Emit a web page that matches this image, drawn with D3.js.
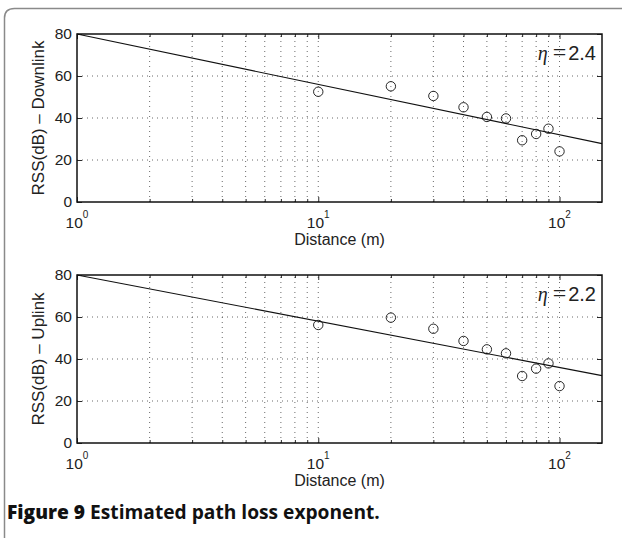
<!DOCTYPE html>
<html>
<head>
<meta charset="utf-8">
<script src="https://cdn.jsdelivr.net/npm/d3@7/dist/d3.min.js"></script>
<style>
  html, body { margin: 0; padding: 0; background: #fff; }
  svg { display: block; }
</style>
</head>
<body>
<svg id="chart" width="622" height="538"></svg>
<script>
// ---------------- data ----------------
const distances = [10, 20, 30, 40, 50, 60, 70, 80, 90, 100];
const rssDownlink = [52.5, 55.1, 50.5, 45.1, 40.5, 39.8, 29.4, 32.4, 34.9, 24.1];
const rssUplink   = [56.2, 59.7, 54.4, 48.6, 44.6, 42.7, 31.9, 35.4, 37.9, 27.1];
const fitX = [1, 150];
const fitDownlink = [80, 27.8];
const fitUplink   = [80, 32.1];
const etaLabels = ["2.4", "2.2"];
const yLabels = ["RSS(dB) \u2013 Downlink", "RSS(dB) \u2013 Uplink"];
const yTicks = [0, 20, 40, 60, 80];
const yGrid = [20, 40, 60];
const xMajorTicks = [1, 10, 100];
const xMajorExp = ["0", "1", "2"];
const xMinorTicks = [2, 3, 4, 5, 6, 7, 8, 9, 20, 30, 40, 50, 60, 70, 80, 90];
const xLabel = "Distance (m)";
const captionBold = "Figure 9";
const captionText = " Estimated path loss exponent.";

// ---------------- layout ----------------
const svg = d3.select("#chart");
const W = 622, H = 538;
const left = 77, right = 602;
const panelTops = [34, 275];
const panelH = 168;

// card border
svg.append("path")
  .attr("d", `M4.5,${H} L4.5,18 Q4.5,8.5 14.5,8.5 L${W + 5},8.5`)
  .attr("fill", "none").attr("stroke", "#8a8a8a").attr("stroke-width", 1.5);

const panels = [
  { values: rssDownlink, fit: fitDownlink, eta: etaLabels[0], ylab: yLabels[0], top: panelTops[0] },
  { values: rssUplink,   fit: fitUplink,   eta: etaLabels[1], ylab: yLabels[1], top: panelTops[1] }
];

const sans = "'Liberation Sans', Arial, Helvetica, sans-serif";
const serif = "'Liberation Serif', 'Times New Roman', serif";

panels.forEach(p => {
  const x = d3.scaleLog().domain([1, 150]).range([left, right]);
  const y = d3.scaleLinear().domain([0, 80]).range([p.top + panelH, p.top]);
  const g = svg.append("g");

  // grid
  g.selectAll(".gx").data(xMinorTicks.concat([10, 100])).join("line")
    .attr("x1", d => x(d)).attr("x2", d => x(d))
    .attr("y1", y(0)).attr("y2", y(80))
    .attr("stroke", "#444").attr("stroke-width", 0.8).attr("stroke-dasharray", "1,4");
  g.selectAll(".gy").data(yGrid).join("line")
    .attr("x1", left).attr("x2", right)
    .attr("y1", d => y(d)).attr("y2", d => y(d))
    .attr("stroke", "#444").attr("stroke-width", 0.8).attr("stroke-dasharray", "1,4");

  // axes ticks (inward), using d3 axes
  const axB = g.append("g").attr("transform", `translate(0,${y(0)})`)
    .call(d3.axisBottom(x).tickValues(xMajorTicks).tickSizeInner(-5).tickSizeOuter(0).tickFormat(""));
  const axBm = g.append("g").attr("transform", `translate(0,${y(0)})`)
    .call(d3.axisBottom(x).tickValues(xMinorTicks).tickSizeInner(-3).tickSizeOuter(0).tickFormat(""));
  const axT = g.append("g").attr("transform", `translate(0,${y(80)})`)
    .call(d3.axisTop(x).tickValues(xMajorTicks).tickSizeInner(-5).tickSizeOuter(0).tickFormat(""));
  const axTm = g.append("g").attr("transform", `translate(0,${y(80)})`)
    .call(d3.axisTop(x).tickValues(xMinorTicks).tickSizeInner(-3).tickSizeOuter(0).tickFormat(""));
  const axL = g.append("g").attr("transform", `translate(${left},0)`)
    .call(d3.axisLeft(y).tickValues(yTicks).tickSizeInner(-5).tickSizeOuter(0).tickPadding(10));
  const axR = g.append("g").attr("transform", `translate(${right},0)`)
    .call(d3.axisRight(y).tickValues(yTicks).tickSizeInner(-5).tickSizeOuter(0).tickFormat(""));
  [axB, axBm, axT, axTm, axL, axR].forEach(a => {
    a.select(".domain").remove();
    a.selectAll(".tick line").attr("stroke", "#111").attr("stroke-width", 0.9);
  });
  axL.selectAll(".tick text")
    .attr("font-family", sans).attr("font-size", 15.5).attr("fill", "#222")
    .attr("x", -5);

  // x tick labels with superscripts
  g.selectAll(".xl").data(xMajorTicks).join("text")
    .attr("x", d => x(d)).attr("y", y(0) + 26)
    .attr("text-anchor", "middle")
    .attr("font-family", sans).attr("font-size", 15.5).attr("fill", "#222")
    .each(function(d, i) {
      const t = d3.select(this);
      t.append("tspan").text("10");
      t.append("tspan").attr("dy", -10).attr("font-size", 10).text(xMajorExp[i]);
    });

  // x label
  g.append("text")
    .attr("x", (left + right) / 2).attr("y", y(0) + 43)
    .attr("text-anchor", "middle")
    .attr("font-family", sans).attr("font-size", 16).attr("fill", "#222")
    .text(xLabel);

  // y label
  g.append("text")
    .attr("transform", `translate(44,${(y(0) + y(80)) / 2}) rotate(-90)`)
    .attr("text-anchor", "middle")
    .attr("font-family", sans).attr("font-size", 17).attr("fill", "#222")
    .text(p.ylab);

  // fit line
  const line = d3.line().x(d => x(d[0])).y(d => y(d[1]));
  g.append("path")
    .attr("d", line(fitX.map((d, i) => [d, p.fit[i]])))
    .attr("fill", "none").attr("stroke", "#111").attr("stroke-width", 1.1);

  // points
  g.selectAll(".pt").data(distances).join("circle")
    .attr("cx", d => x(d)).attr("cy", (d, i) => y(p.values[i]))
    .attr("r", 4.7)
    .attr("fill", "none").attr("stroke", "#111").attr("stroke-width", 0.9);

  // box
  g.append("rect")
    .attr("x", left).attr("y", y(80))
    .attr("width", right - left).attr("height", y(0) - y(80))
    .attr("fill", "none").attr("stroke", "#111").attr("stroke-width", 1.5);

  // eta annotation
  const et = g.append("text")
    .attr("x", 596).attr("y", y(80) + 26)
    .attr("text-anchor", "end").attr("fill", "#222");
  et.append("tspan").attr("font-family", serif)
    .attr("font-style", "italic").attr("font-size", 20).text("\u03B7");
  et.append("tspan").attr("font-family", serif)
    .attr("font-size", 24).attr("dx", 5).text("=");
  et.append("tspan").attr("font-family", sans)
    .attr("font-size", 20).attr("dx", 2).text(p.eta);
});

// caption
const cap = svg.append("text")
  .attr("x", 7).attr("y", 519)
  .attr("font-family", "'Open Sans', 'Noto Sans', sans-serif")
  .attr("font-weight", "bold").attr("font-size", 17).attr("fill", "#111");
cap.append("tspan").attr("font-weight", 800).text(captionBold);
cap.append("tspan").text(captionText);
// fit caption to target width
const targetW = 373;
const cw = cap.node().getComputedTextLength();
cap.attr("font-size", 17 * targetW / cw);
</script>
</body>
</html>
